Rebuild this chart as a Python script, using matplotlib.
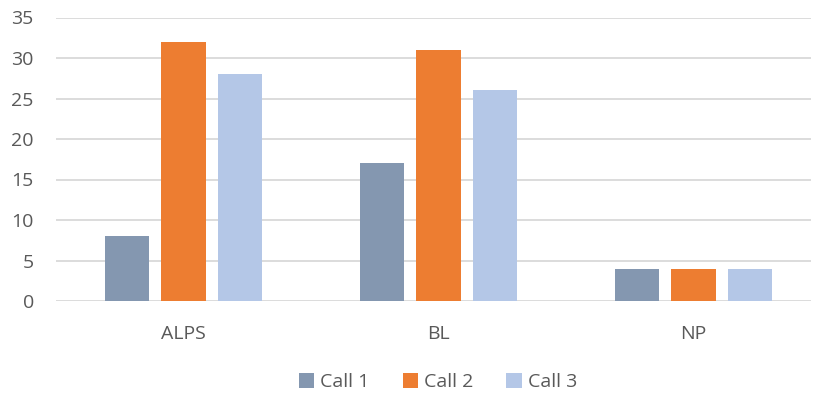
import numpy as np
import matplotlib.pyplot as plt

# data
categories = ["ALPS", "BL", "NP"]
series_names = ["Call 1", "Call 2", "Call 3"]
call1 = [8, 17, 4]
call2 = [32, 31, 4]
call3 = [28, 26, 4]
colors = ["#8497B0", "#ED7D31", "#B4C7E7"]

plt.rcParams['font.family'] = ['Open Sans', 'DejaVu Sans']

fig = plt.figure(figsize=(8.15, 3.95), dpi=100)
ax = fig.add_axes([56 / 815, 94 / 395, 755 / 815, 283.5 / 395])

x = np.arange(len(categories))
width = 0.173
step = 0.2216
for i, (vals, name) in enumerate(zip([call1, call2, call3], series_names)):
    ax.bar(x + (i - 1) * step, vals, width, color=colors[i], label=name, zorder=3)

ax.set_xlim(-0.5, -0.5 + 755 / 255)
ax.set_ylim(0, 35)
ax.set_yticks(range(0, 36, 5))
ax.set_xticks(x)
ax.set_xticklabels(categories)
ax.grid(axis='y', color='#D9D9D9', linewidth=1.3, zorder=0)
for s in ax.spines.values():
    s.set_visible(False)
ax.tick_params(length=0, labelsize=14, colors='#595959')
ax.tick_params(axis='x', pad=17)
ax.tick_params(axis='y', pad=16)

fig.legend(loc='center', bbox_to_anchor=(438 / 815, 1 - 382 / 395), ncol=3, frameon=False,
           fontsize=14, labelcolor='#595959', handlelength=0.8, handleheight=0.8,
           columnspacing=1.7, handletextpad=0.3)

plt.savefig('out.png')
